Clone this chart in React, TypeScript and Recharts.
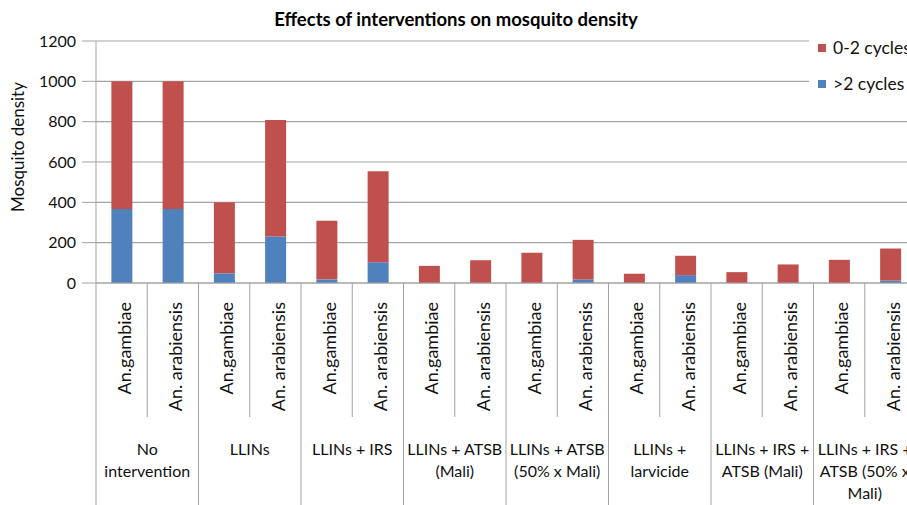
import React from "react";
import { BarChart, Bar, XAxis, YAxis, CartesianGrid } from "recharts";

const species = ["An.gambiae", "An. arabiensis"];

const groups: string[][] = [
  ["No", "intervention"],
  ["LLINs"],
  ["LLINs + IRS"],
  ["LLINs + ATSB", "(Mali)"],
  ["LLINs + ATSB", "(50% x Mali)"],
  ["LLINs +", "larvicide"],
  ["LLINs + IRS +", "ATSB (Mali)"],
  ["LLINs + IRS +", "ATSB (50% x", "Mali)"],
];

// one value per bar, in the order gambiae / arabiensis for each group
const over2Cycles = [367, 367, 48, 230, 18, 103, 0, 0, 0, 17, 0, 39, 0, 0, 0, 12];
const zeroTo2Cycles = [633, 633, 352, 578, 291, 451, 85, 113, 150, 197, 46, 96, 54, 92, 115, 159];

const yTicks = [0, 200, 400, 600, 800, 1000, 1200];

const legendItems = [
  { name: "0-2 cycles", color: "#C0504D" },
  { name: ">2 cycles", color: "#4F81BD" },
];

const data = over2Cycles.map((v, i) => ({
  label: species[i % 2],
  over2: v,
  low: zeroTo2Cycles[i],
}));

const RED = "#C0504D";
const BLUE = "#4F81BD";
const GRID = "#A3A3A3";
const FONT = "Lato, 'Open Sans', sans-serif";

const CHART_W = 916;
const CHART_H = 505;
const MARGIN = { top: 41, right: 0, bottom: 0, left: 16 };
const Y_AXIS_W = 80;
const X_AXIS_H = 222;
const AXIS_Y = CHART_H - X_AXIS_H;
const BAND = (CHART_W - MARGIN.left - MARGIN.right - Y_AXIS_W) / data.length;

function CategoryTick(props: any) {
  const { x, payload } = props;
  const i = payload.index;
  const right = x + BAND / 2;
  const groupEnd = i % 2 === 1;
  const lines = groupEnd ? groups[(i - 1) / 2] : [];
  return (
    <g>
      {i === 0 && (
        <line x1={x - BAND / 2} x2={x - BAND / 2} y1={AXIS_Y} y2={CHART_H} stroke={GRID} />
      )}
      <line x1={right} x2={right} y1={AXIS_Y} y2={groupEnd ? CHART_H : 417} stroke={GRID} />
      <text
        transform={`translate(${x + 3},302) rotate(-90)`}
        textAnchor="end"
        dy="0.35em"
        fontSize={18}
        fontFamily={FONT}
        fill="#111"
      >
        {payload.value}
      </text>
      {lines.map((t, k) => (
        <text
          key={k}
          x={x - BAND / 2}
          y={455 + k * 22}
          textAnchor="middle"
          fontSize={16}
          fontFamily={FONT}
          fill="#111"
        >
          {t}
        </text>
      ))}
    </g>
  );
}

export default function App() {
  return (
    <div style={{ position: "fixed", left: 0, top: 0, width: 907, height: 505, overflow: "hidden", background: "#fff" }}>
      <BarChart width={CHART_W} height={CHART_H} data={data} margin={MARGIN} barCategoryGap="30%">
        <CartesianGrid vertical={false} stroke={GRID} strokeWidth={1.2} />
        <XAxis
          dataKey="label"
          height={X_AXIS_H}
          interval={0}
          tickLine={false}
          axisLine={{ stroke: GRID }}
          tick={<CategoryTick />}
        />
        <YAxis
          width={Y_AXIS_W}
          domain={[0, 1200]}
          ticks={yTicks}
          interval={0}
          tickSize={14}
          tickMargin={6}
          axisLine={{ stroke: GRID }}
          tickLine={{ stroke: GRID }}
          tick={{ fontSize: 16, fontFamily: FONT, fill: "#111" }}
          label={() => (
            <text
              transform="translate(18,147) rotate(-90)"
              textAnchor="middle"
              dy="0.35em"
              fontSize={17}
              fontFamily={FONT}
              fill="#111"
            >
              Mosquito density
            </text>
          )}
        />
        <Bar dataKey="over2" name=">2 cycles" stackId="a" fill={BLUE} isAnimationActive={false} />
        <Bar dataKey="low" name="0-2 cycles" stackId="a" fill={RED} isAnimationActive={false} />
      </BarChart>
      <div
        style={{
          position: "absolute",
          left: 0,
          width: 912,
          top: 8,
          textAlign: "center",
          fontFamily: FONT,
          fontWeight: 700,
          fontSize: 18.5,
          color: "#000",
        }}
      >
        Effects of interventions on mosquito density
      </div>
      <div
        style={{
          position: "absolute",
          left: 809,
          top: 33,
          width: 120,
          height: 72,
          background: "#fff",
          fontFamily: FONT,
          fontSize: 17.5,
          color: "#111",
        }}
      >
        {legendItems.map((it, k) => (
          <div
            key={it.name}
            style={{ position: "absolute", left: 9, top: 4 + k * 36, display: "flex", alignItems: "center", whiteSpace: "nowrap" }}
          >
            <span style={{ width: 8, height: 8, background: it.color, marginRight: 7, display: "inline-block" }} />
            {it.name}
          </div>
        ))}
      </div>
    </div>
  );
}
